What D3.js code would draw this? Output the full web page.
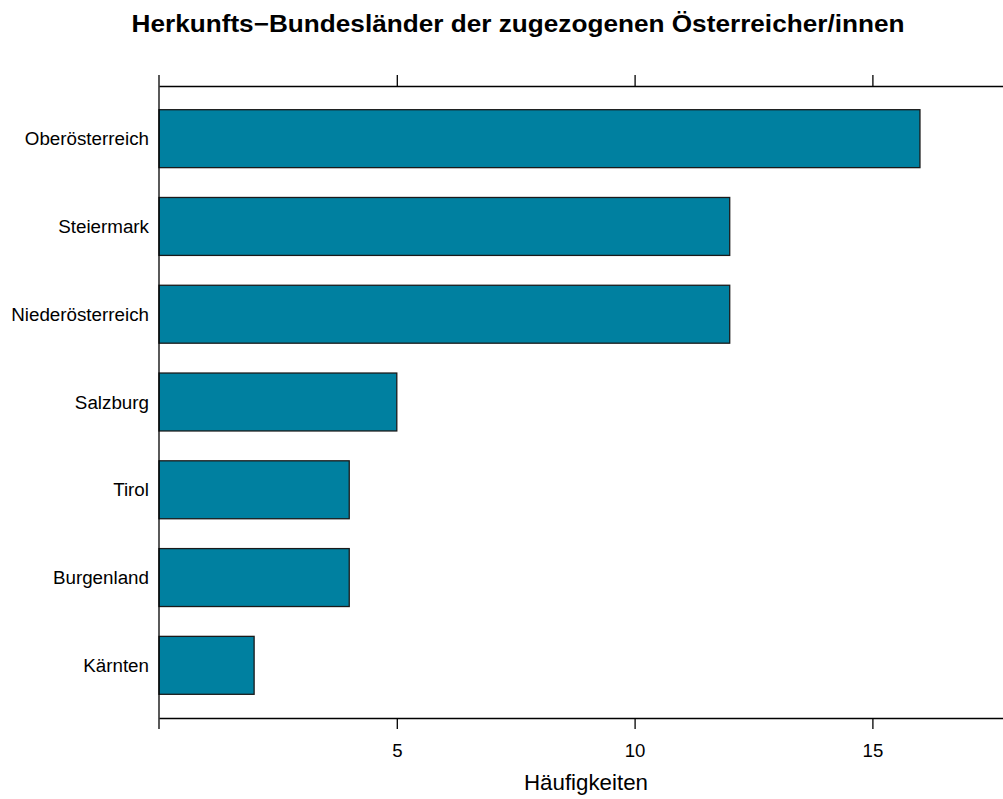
<!DOCTYPE html>
<html>
<head>
<meta charset="utf-8">
<script src="https://cdn.jsdelivr.net/npm/d3@7"></script>
<style>
  body { margin: 0; background: #fff; }
  svg text { font-family: "Liberation Sans", Arial, sans-serif; }
</style>
</head>
<body>
<div id="container"></div>
<script>
const states = ["Oberösterreich", "Steiermark", "Niederösterreich", "Salzburg", "Tirol", "Burgenland", "Kärnten"];
const counts = [16, 12, 12, 5, 4, 4, 2];
const xTicks = [5, 10, 15];
const title = "Herkunfts\u2212Bundesländer der zugezogenen Österreicher/innen";
const xLabel = "Häufigkeiten";

const width = 1003, height = 799;
const panel = { left: 159, top: 86, bottom: 718 };

const svg = d3.select("#container").append("svg")
  .attr("width", width).attr("height", height);

const xScale = d3.scaleLinear().domain([0, 17.9]).range([panel.left, panel.left + 17.9 * 47.56]);
// lattice-style factor axis: positions 1..n, limits 0.4 .. n+0.6 (first level at top)
const yPos = d3.scaleLinear().domain([states.length + 0.6, 0.4]).range([panel.top, panel.bottom]);
const step = yPos(1) - yPos(2);
const barH = step * 0.66;

// bars
svg.selectAll(".bar")
  .data(states)
  .enter()
  .append("rect")
  .attr("class", "bar")
  .attr("x", xScale(0))
  .attr("y", (d, i) => yPos(states.length - i) - barH / 2)
  .attr("width", (d, i) => xScale(counts[i]) - xScale(0))
  .attr("height", barH)
  .style("fill", "#0080a0")
  .style("stroke", "#1a1a1a")
  .style("stroke-width", 1.3);

// top & bottom axes
const topAxis = d3.axisTop(xScale).tickValues(xTicks).tickSize(11).tickFormat("").tickSizeOuter(0);
const bottomAxis = d3.axisBottom(xScale).tickValues(xTicks).tickSize(11).tickPadding(15).tickSizeOuter(0);

const gTop = svg.append("g").attr("transform", `translate(0,${panel.top})`).call(topAxis);
const gBottom = svg.append("g").attr("transform", `translate(0,${panel.bottom})`).call(bottomAxis);
[gTop, gBottom].forEach(g => {
  g.select(".domain").attr("stroke", "#000").attr("stroke-width", 1.3);
  g.selectAll(".tick line").attr("stroke", "#000").attr("stroke-width", 1.3);
  g.selectAll("text").style("font-size", "18.6px").attr("fill", "#000")
    .style("font-family", '"Liberation Sans", Arial, sans-serif');
});

// left line, spanning tick extents
svg.append("line")
  .attr("x1", xScale(0)).attr("x2", xScale(0))
  .attr("y1", panel.top - 11).attr("y2", panel.bottom + 11)
  .attr("stroke", "#000").attr("stroke-width", 1.3);

// category labels
svg.selectAll(".ylab")
  .data(states)
  .enter()
  .append("text")
  .attr("class", "ylab")
  .attr("x", 149)
  .attr("y", (d, i) => yPos(states.length - i))
  .attr("dy", "0.35em")
  .attr("text-anchor", "end")
  .style("font-size", "18.8px")
  .text(d => d);

// title
svg.append("text")
  .attr("x", 518).attr("y", 32)
  .attr("text-anchor", "middle")
  .attr("textLength", 773)
  .attr("lengthAdjust", "spacingAndGlyphs")
  .style("font-size", "23px").style("font-weight", "bold")
  .text(title);

// x label
svg.append("text")
  .attr("x", 586).attr("y", 790)
  .attr("text-anchor", "middle")
  .style("font-size", "22.3px")
  .text(xLabel);
</script>
</body>
</html>
